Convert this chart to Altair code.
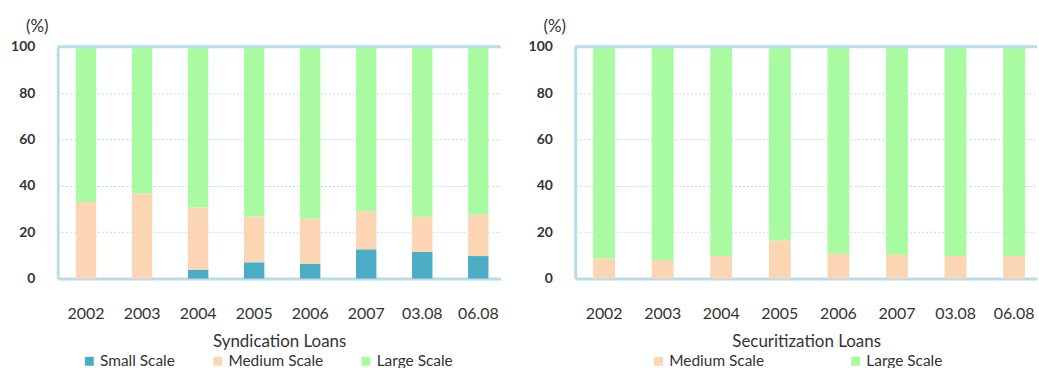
import altair as alt
import pandas as pd

periods = ["2002", "2003", "2004", "2005", "2006", "2007", "03.08", "06.08"]

# Syndication Loans (%)
synd_small = [0.0, 0.0, 3.7, 7.0, 6.3, 12.6, 11.5, 9.7]
synd_medium = [33.0, 36.7, 27.0, 19.8, 19.5, 16.5, 15.3, 17.8]
synd_large = [67.0, 63.3, 69.3, 73.2, 74.2, 70.9, 73.2, 72.5]

# Securitization Loans (%)
sec_medium = [8.7, 8.0, 9.7, 16.5, 10.7, 10.3, 9.7, 9.7]
sec_large = [91.3, 92.0, 90.3, 83.5, 89.3, 89.7, 90.3, 90.3]

series_names = ["Small Scale", "Medium Scale", "Large Scale"]
series_colors = ["#4BACC6", "#FCD5B5", "#A8FBA0"]

FRAME = "#B7DDE8"
FONT = "Lato"
TEXT = "#333333"


def long_table(series):
    rows = []
    for name, vals in series:
        order = series_names.index(name)
        for p, v in zip(periods, vals):
            rows.append({"period": p, "scale": name, "value": v, "order": order})
    return pd.DataFrame(rows)


synd_df = long_table([("Small Scale", synd_small), ("Medium Scale", synd_medium), ("Large Scale", synd_large)])
sec_df = long_table([("Medium Scale", sec_medium), ("Large Scale", sec_large)])


def panel(df, title, names, width, legend_x, legend_pad, pad_inner, pad_outer):
    colors = [series_colors[series_names.index(n)] for n in names]
    x = alt.X("period:N", sort=periods,
              scale=alt.Scale(paddingInner=pad_inner, paddingOuter=pad_outer, align=0.6),
              axis=alt.Axis(title=title, labelAngle=0, labelPadding=27, ticks=False,
                            domain=True, domainColor=FRAME, domainWidth=3,
                            labelFontSize=16, titleFontSize=17, titleFontWeight="normal",
                            titlePadding=12, labelColor=TEXT, titleColor=TEXT,
                            labelFont=FONT, titleFont=FONT))
    y = alt.Y("value:Q", stack="zero",
              scale=alt.Scale(domain=[0, 100], nice=False),
              axis=alt.Axis(values=[0, 20, 40, 60, 80, 100], title="(%)", titleAngle=0,
                            titleX=-21, titleY=-20, titleAlign="center", titleBaseline="middle",
                            titleFontSize=17, titleFontWeight="normal",
                            labelFontSize=14, labelFontWeight="bold", labelPadding=23,
                            ticks=False, domain=True, domainColor=FRAME, domainWidth=3,
                            grid=True, gridColor=FRAME, gridDash=[2, 2], gridWidth=1,
                            labelColor=TEXT, titleColor=TEXT, labelFont=FONT, titleFont=FONT))
    bars = alt.Chart(df).mark_bar().encode(
        x=x,
        y=y,
        color=alt.Color("scale:N", scale=alt.Scale(domain=names, range=colors),
                        legend=alt.Legend(title=None, orient="none", direction="horizontal",
                                          columns=len(names), legendX=legend_x, legendY=308,
                                          symbolType="square", symbolSize=81,
                                          symbolStrokeWidth=0, labelFontSize=15.5,
                                          labelFont=FONT, labelColor=TEXT,
                                          columnPadding=legend_pad, labelOffset=3)),
        order=alt.Order("order:Q"),
    )
    top = alt.Chart(pd.DataFrame({"v": [100]})).mark_rule(color=FRAME, strokeWidth=3).encode(
        y=alt.Y("v:Q")
    )
    return alt.layer(bars, top).properties(width=width, height=233).resolve_scale(color="independent")


left = panel(synd_df, "Syndication Loans", series_names, 445, 24, 35, 0.636, 0.27)
right = panel(sec_df, "Securitization Loans", ["Medium Scale", "Large Scale"], 464, 76, 84, 0.626, 0.255)

chart = alt.hconcat(left, right, spacing=25).resolve_scale(color="independent").configure_view(
    stroke=None
).properties(
    padding={"left": 10, "top": 17, "right": 0, "bottom": 0},
    background="white",
)

chart.save("out.html", embed_options={"renderer": "svg", "actions": False})
